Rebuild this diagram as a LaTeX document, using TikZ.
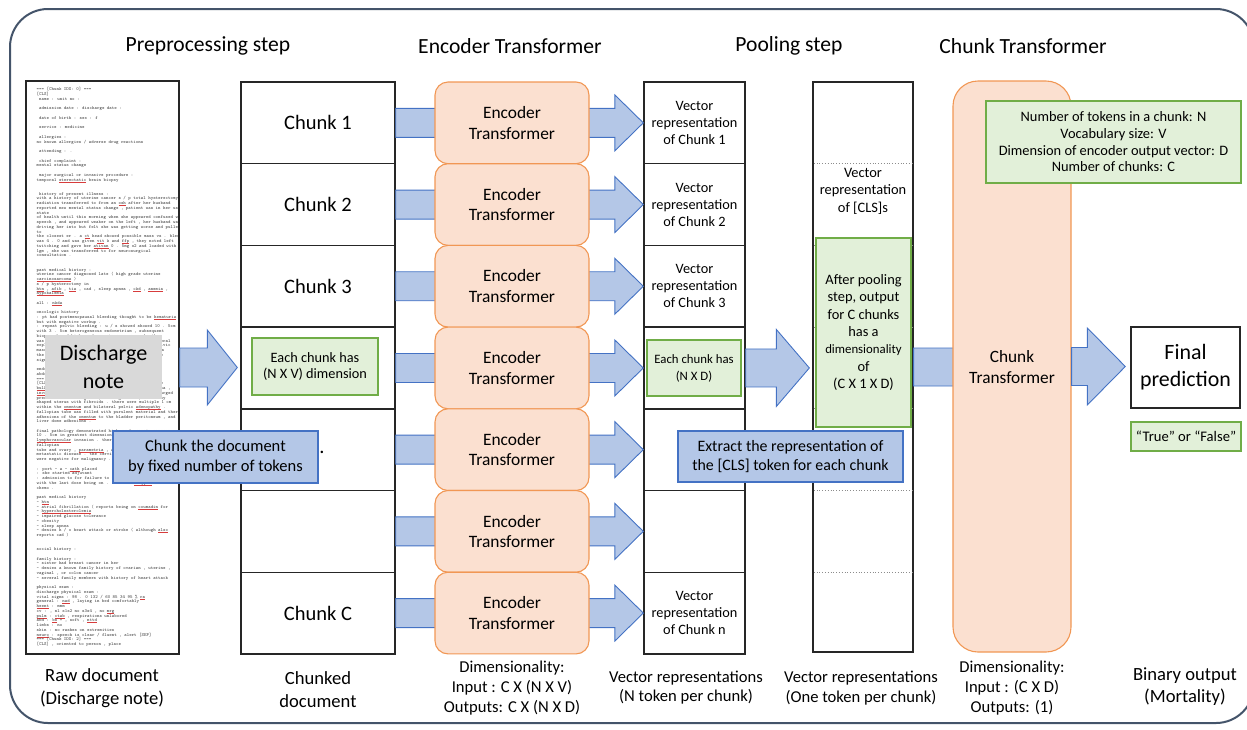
\documentclass[tikz,border=0pt]{standalone}
\usepackage{fontspec}
\setmainfont{Carlito}
\usetikzlibrary{calc}
\definecolor{framec}{RGB}{68,84,106}
\definecolor{bfill}{RGB}{180,199,231}
\definecolor{bline}{RGB}{68,114,196}
\definecolor{pfill}{RGB}{251,224,208}
\definecolor{pline}{RGB}{241,151,84}
\definecolor{gfill}{RGB}{226,240,217}
\definecolor{gline}{RGB}{112,173,71}
\definecolor{grayfill}{RGB}{217,217,217}
\definecolor{doctext}{RGB}{65,65,65}
\definecolor{sqred}{RGB}{215,60,60}
\newcommand\fs[2]{\fontsize{#1}{#2}\selectfont}
\newcommand\spellerr[1]{\setbox0=\hbox{#1}\rlap{\textcolor{sqred}{\rule[-0.9pt]{\wd0}{0.35pt}}}\box0\relax}
\newcommand\dl[1]{\hbox{#1}}
\newcommand\blockarrow[5]{%
  \draw[barrow] let \p1=(#1), \p2=(#2) in
  (\x1,\y1+#3) -- (\x2-#5,\y1+#3) -- (\x2-#5,\y1+#4) -- (\x2,\y1)
  -- (\x2-#5,\y1-#4) -- (\x2-#5,\y1-#3) -- (\x1,\y1-#3) -- cycle;}
\tikzset{
  title/.style={font=\fs{21.6}{25}},
  barrow/.style={fill=bfill, draw=bline, line width=0.9pt, line join=miter},
  chunkbox/.style={draw=black!85, line width=1.4pt, minimum width=154pt, minimum height=81.7pt, inner sep=0pt, font=\fs{20.5}{24}},
  vecbox/.style={draw=black!85, line width=1.4pt, minimum width=101pt, minimum height=81.7pt, inner sep=0pt, align=center, font=\fs{14.3}{17}},
  encbox/.style={fill=pfill, draw=pline, line width=1.1pt, rounded corners=13pt, minimum width=154pt, minimum height=81.7pt, inner sep=0pt, align=center, font=\fs{17.4}{20.5}},
  greenbox/.style={fill=gfill, draw=gline, line width=1.1pt, inner sep=0pt, align=center},
  bluebox/.style={fill=bfill, draw=bline, line width=2pt, inner sep=0pt, align=center},
  lbl/.style={align=center, inner sep=0pt},
  dotline/.style={draw=black!45, dotted, line width=0.8pt}
}
\begin{document}
\begin{tikzpicture}[x=1pt,y=-1pt]
\useasboundingbox (0,0) rectangle (1247,729);
% outer frame
\draw[framec, line width=2pt, rounded corners=38pt] (10,9) rectangle (1254,723);

% titles
\node[title] (t1) at (208,46) {Preprocessing step};
\node[title] (t2) at (510,46) {Encoder Transformer};
\node[title] (t3) at (789,46) {Pooling step};
\node[title] (t4) at (1023,46) {Chunk Transformer};

% raw document text
\begin{scope}
\clip (27.5,82.5) rectangle (177.5,652.5);
\node[anchor=north west, inner sep=0pt, text=doctext, font=\ttfamily\fs{4.67}{4.74}] (doctxt) at (36.5,87.5) {\vbox{\baselineskip=4.74pt\lineskiplimit=-20pt\lineskip=0pt
\dl{=== [Chunk IDX: 0] ===}
\dl{[CLS]}
\dl{\ name : unit no :}\dl{}
\dl{\ admission date : discharge date :}\dl{}
\dl{\ date of birth : sex : f}\dl{}
\dl{\ service : medicine}\dl{}
\dl{\ allergies :}
\dl{no known allergies / adverse drug reactions}\dl{}
\dl{\ attending : .}\dl{}
\dl{\ chief complaint :}
\dl{mental status change}\dl{}
\dl{\ major surgical or invasive procedure :}
\dl{temporal \spellerr{stereotatic} brain biopsy}\dl{}\dl{}
\dl{\ history of present illness :}
\dl{with a history of uterine cancer s / p total hysterectomy and}
\dl{radiation transferred to from an \spellerr{osh} after her husband}
\dl{reported new mental status change , patient was in her usual}
\dl{state}
\dl{of health until this morning when she appeared confused with}
\dl{speech , and appeared weaker on the left , her husband was}
\dl{driving her into but felt she was getting worse and pulled}
\dl{to}
\dl{the closest er . a \spellerr{ct} head showed possible mass vs . bleed}
\dl{was 4 . 0 and was given \spellerr{vit} k and \spellerr{ffp} , they noted left}
\dl{twitching and gave her \spellerr{ativan} 0 . 5mg x2 and loaded with}
\dl{1gm , she was transferred to for neurosurgical}
\dl{consultation .}\dl{}\dl{}
\dl{past medical history :}
\dl{uterine cancer diagnosed late ( high grade uterine}
\dl{\spellerr{carcinosarcoma} )}
\dl{s / p hysterectomy in}
\dl{\spellerr{htn} , \spellerr{afib} , \spellerr{tia} , cad , sleep apnea , \spellerr{ckd} , \spellerr{anemia} ,}
\dl{\spellerr{hypokalemia}}\dl{}
\dl{all : \spellerr{nkda}}\dl{}
\dl{oncologic history}
\dl{: pt had postmenopausal bleeding thought to be \spellerr{hematuria}}
\dl{but with negative workup .}
\dl{: repeat pelvic bleeding : u / s showed showed 10 . 5cm}
\dl{with 3 . 5cm heterogeneous endometrium , subsequent}
\dl{biopsy showed high grade carcinosarcoma . she then}
\dl{was taken for total abdominal hysterectomy , bilateral}
\dl{exploration of the abdomen with omentectomy and pelvic}
\dl{mass resection . intraoperative findings included a}
\dl{the uterus with a large friable tumor and extensive}
\dl{signs of local spread .}\dl{}
\dl{endometrial carcinosarcoma , high grade , with}
\dl{abdominal and pelvic extension .}
\dl{=== [Chunk IDX: 1] ===}
\dl{[CLS] peritoneal washings were positive , operative}
\dl{\spellerr{bulky} uterus with tumor extending through the serosa ,}
\dl{\spellerr{involvement} of the adnexa bilaterally , and an enlarged}
\dl{presence of an irregular , heterogeneous , and bulky}
\dl{shaped uterus with fibroids . there were multiple 1 cm}
\dl{within the \spellerr{omentum} and bilateral pelvic \spellerr{adenopathy} .}
\dl{fallopian tube was filled with purulent material and there}
\dl{adhesions of the \spellerr{omentum} to the bladder peritoneum , and}
\dl{liver dome adhesions .}\dl{}
\dl{final pathology demonstrated high grade carcinosarcoma ,}
\dl{10 . 5cm in greatest dimension , with extensive}
\dl{\spellerr{lymphovascular} invasion . there was involvement of}
\dl{fallopian}
\dl{tube and ovary , \spellerr{parametria} , and pelvic lymph nodes}
\dl{metastatic disease . the cervix and omentum}
\dl{were negative for malignancy . she was staged as}\dl{}
\dl{: port - a - \spellerr{cath} placed}
\dl{: she started adjuvant}
\dl{: admission to for failure to thrive after cycle}
\dl{with the last dose being on . she then \spellerr{stopped}}
\dl{chemo .}\dl{}
\dl{past medical history}
\dl{- \spellerr{htn}}
\dl{- atrial fibrillation ( reports being on \spellerr{coumadin} for}
\dl{- \spellerr{hypercholesterolemia}}
\dl{- impaired glucose tolerance}
\dl{- obesity}
\dl{- sleep apnea}
\dl{- denies h / o heart attack or stroke ( although \spellerr{also}}
\dl{reports cad )}\dl{}\dl{}
\dl{social history :}\dl{}
\dl{family history :}
\dl{- sister had breast cancer in her}
\dl{- denies a known family history of ovarian , uterine ,}
\dl{vaginal , or colon cancer}
\dl{- several family members with history of heart attack}\dl{}
\dl{physical exam :}
\dl{discharge physical exam :}
\dl{vital signs : 98 . 0 132 / 60 85 34 95 \% \spellerr{ra}}
\dl{general : \spellerr{nad} , laying in bed comfortably}
\dl{\spellerr{heent} : mmm}
\dl{cv : , nl s1s2 no s3s4 , no \spellerr{mrg}}
\dl{\spellerr{pulm} : \spellerr{ctab} , respirations unlabored}
\dl{abd : \spellerr{bs} + , soft , \spellerr{nttd}}
\dl{limbs : no}
\dl{skin : no rashes on extremities}
\dl{\spellerr{neuro} : speech is clear / fluent , alert [SEP]}
\dl{=== [Chunk IDX: 2] ===}
\dl{[CLS] , oriented to person , place}}};
\end{scope}
\node[draw=black!85, line width=1.4pt, minimum width=153pt, minimum height=573pt, inner sep=0pt] (doc) at (102.5,367.5) {};

% chunk column
\node[chunkbox] (c1) at (318,122.85) {Chunk 1};
\node[chunkbox] (c2) at (318,204.55) {Chunk 2};
\node[chunkbox] (c3) at (318,286.25) {Chunk 3};
\node[chunkbox] (c4) at (318,367.95) {};
\node[chunkbox] (c5) at (318,449.65) {};
\node[chunkbox] (c6) at (318,531.35) {};
\node[chunkbox] (c7) at (318,613.05) {Chunk C};

% vector column
\node[vecbox] (v1) at (694.5,122.85) {Vector\\representation\\of Chunk 1};
\node[vecbox] (v2) at (694.5,204.55) {Vector\\representation\\of Chunk 2};
\node[vecbox] (v3) at (694.5,286.25) {Vector\\representation\\of Chunk 3};
\node[vecbox] (v4) at (694.5,367.95) {};
\node[vecbox] (v5) at (694.5,449.65) {};
\node[vecbox] (v6) at (694.5,531.35) {};
\node[vecbox] (v7) at (694.5,613.05) {Vector\\representation\\of Chunk n};

% pooling column
\node[draw=black!85, line width=1.3pt, minimum width=100pt, minimum height=570pt, inner sep=0pt] (pool) at (863,367) {};
\foreach \yy in {163.7,245.4,327.1,408.8,490.5,572.2}{
  \draw[dotline] (813.7,\yy) -- (912.3,\yy);
}
\node[lbl, font=\fs{14.4}{17.5}] (cls) at (863,191) {Vector\\representation\\of {[CLS]}s};

% arrows chunk -> vector (encoders on top)
\foreach \i in {1,...,7}{
  \blockarrow{c\i.east}{v\i.west}{14.5pt}{28pt}{28.5pt}
}
% encoders
\foreach \i in {1,...,7}{
  \node[encbox] (e\i) at (512,{82+81.7*(\i-0.5)}) {Encoder\\Transformer};
}

% doc -> chunks arrow
\blockarrow{doc.east}{$(c4.west)+(-3,0)$}{19.5pt}{37.5pt}{30pt}
% vector -> pooling arrow
\blockarrow{v4.east}{$(pool.west)+(-3,0)$}{19pt}{38.5pt}{33pt}
% pooling -> chunk transformer
\coordinate (ctin) at (1005,366.5);
\blockarrow{pool.east}{ctin}{19pt}{38.5pt}{33pt}

% chunk transformer
\node[fill=pfill, draw=pline, line width=1.1pt, rounded corners=25pt, minimum width=118pt, minimum height=571pt, inner sep=0pt] (ct) at (1012,366.5) {};
\node[lbl, font=\fs{17.3}{21}] (cttxt) at (1012,367.5) {Chunk\\Transformer};

% final prediction
\node[draw=black!85, line width=1.4pt, minimum width=109pt, minimum height=81pt, inner sep=0pt, align=center, font=\fs{21.9}{26.7}] (final) at (1185.5,367.5) {Final\\prediction};
\blockarrow{ct.east}{$(final.west)+(-5,0)$}{19pt}{38.5pt}{38pt}
\node[greenbox, minimum width=110pt, minimum height=29pt, font=\fs{14.6}{17}] (tf) at (1186,436.5) {“True” or “False”};

% info box
\node[greenbox, minimum width=255pt, minimum height=82pt, font=\fs{14.4}{16.7}] (info) at (1113.5,142) {Number of tokens in a chunk: N\\Vocabulary size: V\\Dimension of encoder output vector: D\\Number of chunks: C};

% green notes
\node[greenbox, minimum width=126pt, minimum height=57pt, font=\fs{14.3}{16.7}] (g1) at (315,366.5) {Each chunk has\\(N X V) dimension};
\node[greenbox, minimum width=94pt, minimum height=56pt, font=\fs{12.8}{17}] (g2) at (694,368) {Each chunk has\\(N X D)};
\node[greenbox, minimum width=95pt, minimum height=189pt, font=\fs{14.4}{17.3}] (g3) at (863.5,332.5) {After pooling\\step, output\\for C chunks\\has a\\{\fs{12.8}{17.3}dimensionality}\\of\\(C X 1 X D)};

% discharge note label
\node[fill=grayfill, minimum width=117pt, minimum height=64pt, inner sep=0pt, align=center, font=\fs{22.1}{28}] (dn) at (103.5,367) {Discharge\\note};

% blue notes
\node[bluebox, minimum width=205pt, minimum height=52pt, font=\fs{16.5}{20}] (b1) at (215.5,457) {Chunk the document\\by fixed number of tokens};
\node[font=\fs{20.5}{24}, anchor=base, inner sep=0pt] (dot) at (322,453) {.};
\node[bluebox, minimum width=225pt, minimum height=51pt, font=\fs{15.9}{19}] (b2) at (790.5,456.5) {Extract the representation of\\the {[CLS]} token for each chunk};

% bottom labels
\node[lbl, font=\fs{18.6}{22.7}] (l1) at (102,688) {Raw document\\(Discharge note)};
\node[lbl, font=\fs{18.6}{22.7}] (l2) at (318,689.5) {Chunked\\document};
\node[lbl, font=\fs{16.6}{20}] (l3) at (512,688) {Dimensionality:\\Input : C X (N X V)\\Outputs: C X (N X D)};
\node[lbl, font=\fs{16.6}{19.5}] (l4) at (686,687.5) {Vector representations\\(N token per chunk)};
\node[lbl, font=\fs{16.6}{19.5}] (l5) at (861,688) {Vector representations\\(One token per chunk)};
\node[lbl, font=\fs{16.6}{20}] (l6) at (1012,688.5) {Dimensionality:\\Input : (C X D)\\Outputs: (1)};
\node[lbl, font=\fs{18.6}{22.7}] (l7) at (1185,686.5) {Binary output\\(Mortality)};
\end{tikzpicture}
\end{document}
